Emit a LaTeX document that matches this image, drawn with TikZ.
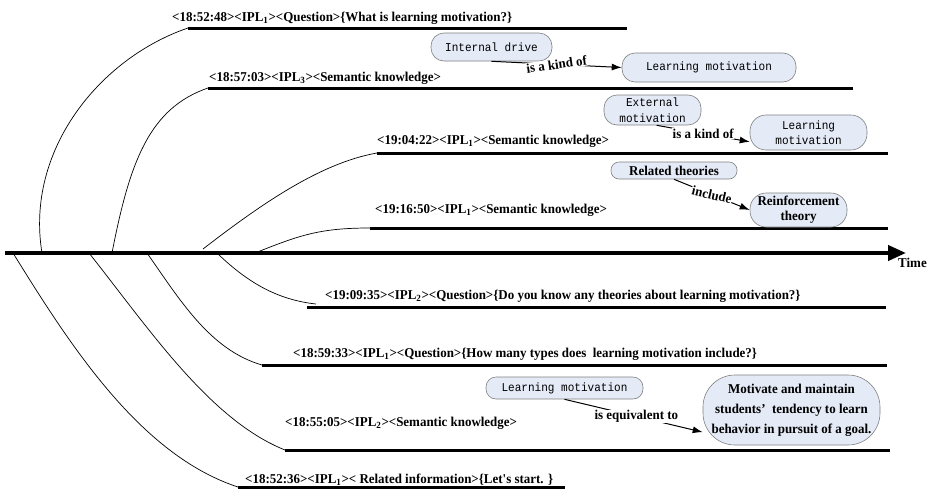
\documentclass[tikz,border=0pt]{standalone}
\usepackage{fontspec}
\setmainfont{Liberation Serif}
\newfontfamily\labf[FakeStretch=0.96]{Liberation Serif}
\newfontfamily\monof[FakeStretch=0.92]{Liberation Mono}
\usetikzlibrary{arrows.meta}
\begin{document}
\begin{tikzpicture}[x=1pt,y=-1pt,
  tline/.style={line width=3pt},
  conn/.style={line width=0.7pt},
  evlabel/.style={anchor=base west,inner sep=0pt,font=\labf\fontsize{13.5}{15}\selectfont\bfseries},
  concept/.style={draw=black!50,fill={rgb,255:red,228;green,234;blue,246},rounded corners=10pt,align=center,inner sep=0pt,line width=0.6pt},
  mono/.style={font=\monof\fontsize{12}{15.5}\selectfont},
  boldc/.style={font=\labf\fontsize{13.5}{15}\selectfont\bfseries},
  rel/.style={line width=1pt,-{Latex[length=10pt,width=7pt]}},
  rellab/.style={font=\labf\fontsize{13.5}{15}\selectfont\bfseries,fill=white,inner sep=0.5pt}]
\useasboundingbox (0,0) rectangle (931,493);

% axis
\coordinate (ax0) at (5,253);
\coordinate (ax1) at (906,253);
\draw[line width=4pt,-{Triangle[length=18pt,width=15pt]}] (ax0) -- (ax1);
\node[anchor=north west,inner sep=0pt,font=\labf\fontsize{13.5}{15}\selectfont\bfseries] (time) at (898,258) {Time};

% axis attachment points
\coordinate (a1) at (42,253);
\coordinate (a2) at (112,253);
\coordinate (a3) at (203,249);
\coordinate (a4) at (255,253);
\coordinate (b1) at (13,253);
\coordinate (b2) at (89,253);
\coordinate (b3) at (147,253);
\coordinate (b4) at (217,253);

% event lines
\coordinate (l1s) at (188,28);  \coordinate (l1e) at (627,28);
\coordinate (l2s) at (208,88);  \coordinate (l2e) at (853,88);
\coordinate (l3s) at (377,153); \coordinate (l3e) at (888,153);
\coordinate (l4s) at (370,228); \coordinate (l4e) at (888,228);
\coordinate (l5s) at (307,307); \coordinate (l5e) at (886,307);
\coordinate (l6s) at (262,365); \coordinate (l6e) at (887,365);
\coordinate (l7s) at (285,450); \coordinate (l7e) at (890,450);
\coordinate (l8s) at (238,487); \coordinate (l8e) at (565,487);
\foreach \i in {1,...,8} {\draw[tline] (l\i s) -- (l\i e);}
\coordinate (h5) at (316,304);

% connectors from axis
\draw[conn] (a1) .. controls (25,150) and (100,58) .. (l1s);
\draw[conn] (a2) .. controls (130,160) and (150,108) .. (l2s);
\draw[conn] (a3) .. controls (260,205) and (320,163) .. (l3s);
\draw[conn] (a4) .. controls (300,235) and (320,228) .. (l4s);
\draw[conn] (b1) .. controls (70,345) and (140,455) .. (l8s);
\draw[conn] (b2) .. controls (150,330) and (210,420) .. (l7s);
\draw[conn] (b3) .. controls (180,300) and (210,350) .. (l6s);
\draw[conn] (b4) .. controls (250,285) and (280,300) .. (h5);

% event texts
\node[evlabel] (t1) at (172,21) {<18:52:48><IPL\textsubscript{1}><Question>\{What is learning motivation?\}};
\node[evlabel] (t2) at (209,81) {<18:57:03><IPL\textsubscript{3}><Semantic knowledge>};
\node[evlabel] (t3) at (377,144) {<19:04:22><IPL\textsubscript{1}><Semantic knowledge>};
\node[evlabel] (t4) at (375,213) {<19:16:50><IPL\textsubscript{1}><Semantic knowledge>};
\node[evlabel] (t5) at (325,299) {<19:09:35><IPL\textsubscript{2}><Question>\{Do you know any theories about learning motivation?\}};
\node[evlabel] (t6) at (293,357) {<18:59:33><IPL\textsubscript{1}><Question>\{How many types does\ \ learning motivation include?\}};
\node[evlabel] (t7) at (285,426) {<18:55:05><IPL\textsubscript{2}><Semantic knowledge>};
\node[evlabel] (t8) at (245,483) {<18:52:36><IPL\textsubscript{1}>< Related information>\{Let's start. \}};

% concept nodes
\node[concept,mono,minimum width=121pt,minimum height=28pt,rounded corners=13pt] (c1) at (491.5,47) {Internal drive};
\node[concept,mono,minimum width=174pt,minimum height=29pt,rounded corners=13pt] (c2) at (709,67.5) {Learning motivation};
\node[concept,mono,minimum width=97pt,minimum height=30pt,rounded corners=13pt] (c3) at (652.5,110) {External\\motivation};
\node[concept,mono,minimum width=117pt,minimum height=35pt,rounded corners=16pt] (c4) at (808.5,132.5) {Learning\\motivation};
\node[concept,boldc,minimum width=126pt,minimum height=17pt,rounded corners=8pt] (c5) at (674,170.5) {Related theories};
\node[concept,boldc,minimum width=97pt,minimum height=34pt,rounded corners=16pt] (c6) at (798.5,210) {Reinforcement\\theory};
\node[concept,mono,minimum width=157pt,minimum height=22pt,rounded corners=10pt] (c7) at (564.5,388) {Learning motivation};
\node[concept,boldc,font=\labf\fontsize{13.5}{20}\selectfont\bfseries,minimum width=177pt,minimum height=70pt,rounded corners=32pt] (c8) at (791.5,410) {Motivate and maintain\\students’\ \ tendency to learn\\behavior in pursuit of a goal.};

% relations
\draw[rel] (c1.south) -- node[rellab,rotate=8,pos=0.5] {is a kind of} (c2.west);
\draw[rel] (c3.-75) -- node[rellab,pos=0.5] {is a kind of} (c4.189);
\draw[rel] (c5.south) -- node[rellab,rotate=-13,pos=0.5] {include} (c6.west);
\draw[rel] (c7.south) -- node[rellab,pos=0.52] {is equivalent to} (c8.194);
\end{tikzpicture}
\end{document}
